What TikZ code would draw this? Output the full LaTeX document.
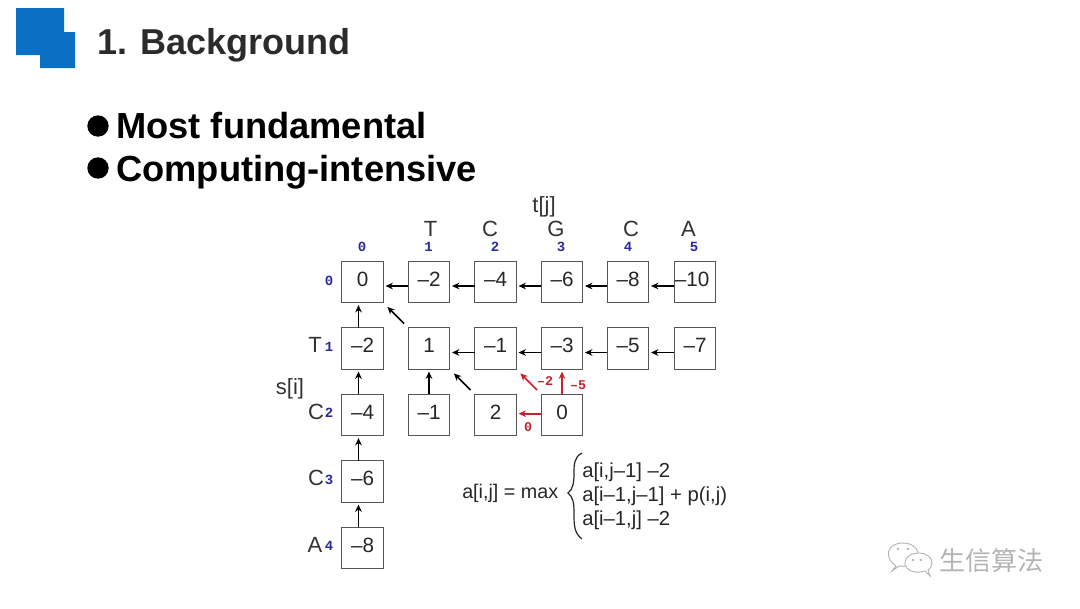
\documentclass[tikz,border=0pt]{standalone}
\usepackage{fontspec}
\setmainfont{Liberation Sans}
\newfontfamily\cjk{Noto Sans CJK SC}
\newfontfamily\idxfont{Liberation Mono}
\usetikzlibrary{arrows.meta,calc}
\definecolor{logoblue}{HTML}{0B6FC4}
\definecolor{titlegray}{HTML}{2B2B2B}
\definecolor{idxblue}{HTML}{2A2AA0}
\definecolor{redarrow}{HTML}{C8202C}
\definecolor{boxgray}{HTML}{555555}
\definecolor{wmgray}{HTML}{B4B4B4}
\tikzset{
  cell/.style={draw=boxgray,line width=0.8pt,minimum size=31pt,inner sep=0pt,outer sep=0pt},
  celltext/.style={font=\fontsize{15.5}{17}\selectfont,text=black!85,inner sep=0pt},
  arr/.style={-{Stealth[length=5.5pt,width=5pt]},line width=1.25pt,black,shorten >=1.8pt},
  darr/.style={arr,shorten >=4.5pt,shorten <=4.5pt},
  rarr/.style={arr,redarrow},
  rdarr/.style={darr,redarrow},
  seqlabel/.style={font=\fontsize{16.5}{18}\selectfont,text=black!80,inner sep=0pt},
  idx/.style={font=\idxfont\bfseries\fontsize{10.5}{12}\selectfont,text=idxblue,inner sep=0pt},
  rlab/.style={font=\idxfont\bfseries\fontsize{10}{12}\selectfont,text=redarrow,inner sep=0pt},
  formula/.style={font=\fontsize{15.2}{17}\selectfont,text=black!85,inner sep=0pt,anchor=base west},
  headline/.style={font=\bfseries\fontsize{27.2}{30}\selectfont,text=black,inner sep=0pt,anchor=base west},
  bullet/.style={circle,fill=black,minimum size=16pt,inner sep=0pt},
}
\begin{document}
\begin{tikzpicture}[x=0.75pt,y=-0.75pt]
\useasboundingbox (0,0) rectangle (1080,608);
% logo
\fill[logoblue] (16,8) -- (64,8) -- (64,32) -- (75,32) -- (75,68) -- (40,68) -- (40,55) -- (16,55) -- cycle;
\node[font=\bfseries\fontsize{27}{30}\selectfont,text=titlegray,inner sep=0pt,anchor=base west] (title) at (97,54) {1. Background};
% bullets
\node[bullet] (bu1) at (98,126) {};
\node[bullet] (bu2) at (98,168) {};
\node[headline] (h1) at (116,138) {Most fundamental};
\node[headline] (h2) at (116,181) {Computing-intensive};
% cells
\foreach \nm/\cx/\cy/\tx in {
 b00/362.5/282/0, b01/429/282/–2, b02/495.5/282/–4, b03/562/282/–6, b04/628/282/–8, b05/695/282/–10\kern4.5pt,
 b10/362.5/348.5/–2, b11/429/348.5/1, b12/495.5/348.5/–1, b13/562/348.5/–3, b14/628/348.5/–5, b15/695/348.5/–7,
 b20/362.5/415/–4, b21/429/415/–1, b22/495.5/415/2, b23/562/415/0,
 b30/362.5/481.5/–6, b40/362.5/548/–8}{
  \node[cell] (\nm) at (\cx,\cy) {};
  \node[celltext] (\nm t) at (\cx,\cy-3) {\tx};
}
% horizontal arrows
\foreach \a/\b in {b01/b00,b02/b01,b03/b02,b04/b03,b05/b04,b12/b11,b13/b12,b14/b13,b15/b14}{
  \draw[arr] ([yshift=-3pt]\a.west) -- ([yshift=-3pt]\b.east);
}
% vertical arrows
\foreach \a/\b in {b10/b00,b20/b10,b30/b20,b40/b30}{
  \draw[arr] ([xshift=-3pt]\a.north) -- ([xshift=-3pt]\b.south);
}
\draw[arr] (b21.north) -- (b11.south);
% diagonal arrows
\draw[darr] (b11) -- (b00);
\draw[darr] (b22) -- (b11);
% red arrows
\draw[rdarr] (b23) -- (b12);
\draw[rarr] (b23.north) -- (b13.south);
\draw[rarr] ([yshift=1pt]b23.west) -- ([yshift=1pt]b22.east);
\node[rlab] (r1) at (545,381) {–2};
\node[rlab] (r2) at (578,385) {–5};
\node[rlab] (r3) at (528,427) {0};
% top labels
\node[seqlabel] (tj) at (544,207) {t[j]};
\node[seqlabel] (s1) at (430.5,229) {T};
\node[seqlabel] (s2) at (490,229) {C};
\node[seqlabel] (s3) at (556,229) {G};
\node[seqlabel] (s4) at (631,229) {C};
\node[seqlabel] (s5) at (688.5,229) {A};
\foreach \nm/\cx/\tx in {i0/362/0,i1/428.5/1,i2/495/2,i3/561/3,i4/628/4,i5/694/5}{
  \node[idx] (\nm) at (\cx,247) {\tx};
}
% left labels
\node[seqlabel] (si) at (290,389) {s[i]};
\node[idx] (j0) at (329,281) {0};
\node[seqlabel] (l1) at (315,345) {T};
\node[idx] (j1) at (329,347) {1};
\node[seqlabel] (l2) at (316,412) {C};
\node[idx] (j2) at (329,413) {2};
\node[seqlabel] (l3) at (316,478) {C};
\node[idx] (j3) at (329,480) {3};
\node[seqlabel] (l4) at (315,545) {A};
\node[idx] (j4) at (329,546) {4};
% formula
\node[formula,font=\fontsize{14.8}{17}\selectfont] (f0) at (462,498) {a[i,j] = max};
\draw[line width=0.9pt,black!85] (582,453) .. controls (574,457) and (574,465) .. (574,473)
  .. controls (574,483) and (573,489) .. (568,493)
  .. controls (573,497) and (574,503) .. (574,512)
  .. controls (574,525) and (574,533) .. (582,539);
\node[formula] (f1) at (582,477) {a[i,j–1] –2};
\node[formula] (f2) at (582,501) {a[i–1,j–1] + p(i,j)};
\node[formula] (f3) at (582,525) {a[i–1,j] –2};
% watermark
\draw[wmgray,line width=0.7pt,fill=white] (896,566) .. controls (884,558) and (886,543) .. (903,543)
  .. controls (915,543) and (921,552) .. (917,560) .. controls (912,566) and (905,567) .. (899,566) -- (892,571) -- cycle;
\draw[wmgray,line width=0.7pt,fill=white] (925,571) .. controls (912,575) and (904,568) .. (905,562)
  .. controls (906,556) and (912,553) .. (919,553) .. controls (927,553) and (932,558) .. (932,563)
  .. controls (932,566) and (930,569) .. (928,570) -- (930,576) -- cycle;
\foreach \px/\py in {898/549,908/549,913/560,921/560}{\fill[wmgray] (\px,\py) circle (1pt);}
\node[font=\cjk\fontsize{19.5}{22}\selectfont,text=wmgray,inner sep=0pt] (wm) at (991.5,561) {生信算法};
\end{tikzpicture}
\end{document}
